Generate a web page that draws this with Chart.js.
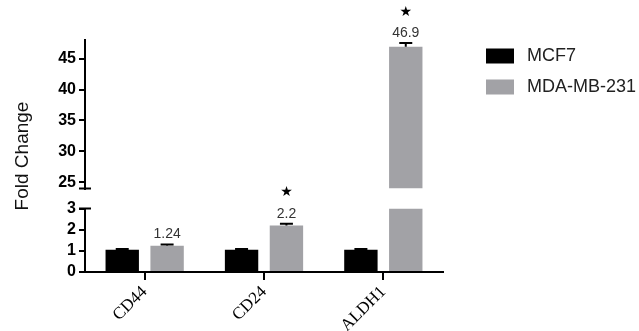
<!DOCTYPE html>
<html>
<head>
<meta charset="utf-8">
<script src="https://cdn.jsdelivr.net/npm/chart.js@4.4.1/dist/chart.umd.min.js"></script>
<style>
  html, body { margin: 0; padding: 0; background: #fff; }
</style>
</head>
<body>
<canvas id="foldChart" width="639" height="331"></canvas>
<script>
const genes = ['CD44', 'CD24', 'ALDH1'];
const mcf7 = [1.05, 1.05, 1.05];
const mcf7Err = [0.04, 0.04, 0.04];
const mda231 = [1.24, 2.2, 46.9];
const mda231Err = [0.06, 0.08, 0.6];
const stars = ['', '★', '★'];
const upperTicks = [25, 30, 35, 40, 45];
const lowerTicks = [0, 1, 2, 3];

const seriesNames = ['MCF7', 'MDA-MB-231'];
const seriesColors = ['#000000', '#a2a2a6'];

// the same bars go on both halves of the broken axis, each half clips its own part
function barSets(axis) {
  return [
    { label: seriesNames[0], stack: 's0', data: mcf7, err: mcf7Err, backgroundColor: seriesColors[0], yAxisID: axis },
    { label: seriesNames[1], stack: 's1', data: mda231, err: mda231Err, backgroundColor: seriesColors[1], yAxisID: axis }
  ];
}

const clipToScale = {
  id: 'clipToScale',
  beforeDatasetDraw(chart, args) {
    const { ctx, chartArea } = chart;
    const s = args.meta.yScale;
    ctx.save();
    ctx.beginPath();
    ctx.rect(chartArea.left, s.top, chartArea.right - chartArea.left, s.bottom - s.top);
    ctx.clip();
  },
  afterDatasetDraw(chart, args) {
    const { ctx } = chart;
    const ds = chart.data.datasets[args.index];
    const s = args.meta.yScale;
    ctx.strokeStyle = '#000';
    ctx.lineWidth = 2;
    args.meta.data.forEach((bar, i) => {
      const y0 = s.getPixelForValue(ds.data[i]);
      const y1 = s.getPixelForValue(ds.data[i] + ds.err[i]);
      ctx.beginPath();
      ctx.moveTo(bar.x, y0);
      ctx.lineTo(bar.x, y1);
      ctx.moveTo(bar.x - 6.5, y1);
      ctx.lineTo(bar.x + 6.5, y1);
      ctx.stroke();
    });
    ctx.restore();
  }
};

const decor = {
  id: 'decor',
  afterDraw(chart) {
    const { ctx, chartArea, scales } = chart;
    const top = scales.yTop, low = scales.yLow;
    const axisX = chartArea.left;
    ctx.save();

    // break marks
    ctx.strokeStyle = '#000';
    ctx.lineWidth = 2;
    [top.bottom, low.top].forEach(y => {
      ctx.beginPath();
      ctx.moveTo(axisX - 6, y);
      ctx.lineTo(axisX + 6, y);
      ctx.stroke();
    });

    // values and stars over MDA-MB-231
    const meta = chart.getDatasetMeta(3);
    ctx.textAlign = 'center';
    ctx.textBaseline = 'middle';
    mda231.forEach((v, i) => {
      const hi = v + mda231Err[i];
      const s = hi <= low.max ? low : top;
      const x = meta.data[i].x;
      const y = s.getPixelForValue(hi) - 10;
      ctx.fillStyle = '#333';
      ctx.font = '14px "Liberation Sans"';
      ctx.fillText(String(v), x, y);
      if (stars[i]) {
        ctx.fillStyle = '#000';
        ctx.font = '14px "DejaVu Sans"';
        ctx.fillText(stars[i], x, y - 21);
      }
    });

    // legend
    ctx.textAlign = 'left';
    ctx.font = '18px "Liberation Sans"';
    seriesNames.forEach((name, i) => {
      const cy = 56 + i * 31;
      ctx.fillStyle = seriesColors[i];
      ctx.fillRect(chartArea.right + 43, cy - 7.5, 28, 15);
      ctx.fillStyle = '#222';
      ctx.fillText(name, chartArea.right + 84, cy);
    });

    // y title
    ctx.translate(23, (top.top + low.bottom) / 2);
    ctx.rotate(-Math.PI / 2);
    ctx.textAlign = 'center';
    ctx.fillStyle = '#111';
    ctx.font = '19px "Liberation Sans"';
    ctx.fillText('Fold Change', 0, 0);
    ctx.restore();
  }
};

const yCommon = {
  type: 'linear',
  position: 'left',
  stack: 'fold',
  grid: { drawOnChartArea: false, tickLength: 6, color: '#000', lineWidth: 2 },
  border: { display: true, color: '#000', width: 2 },
  ticks: { color: '#000', autoSkip: false, padding: 3, font: { family: 'Liberation Sans', size: 16, weight: 'bold' } },
  afterFit: s => { s.width = 85; }
};

const ctx = document.getElementById('foldChart').getContext('2d');
const foldChart = new Chart(ctx, {
  type: 'bar',
  data: {
    labels: genes,
    datasets: [...barSets('yTop'), ...barSets('yLow')]
  },
  options: {
    responsive: false,
    animation: false,
    devicePixelRatio: 1,
    layout: { padding: { top: 40, right: 196, left: 0, bottom: 0 } },
    datasets: { bar: { barPercentage: 0.744, categoryPercentage: 0.752, borderWidth: 0 } },
    scales: {
      x: {
        offset: true,
        grid: { drawOnChartArea: false, offset: false, tickLength: 8, color: '#000', lineWidth: 2 },
        border: { display: true, color: '#000', width: 2 },
        ticks: { color: '#000', maxRotation: 45, minRotation: 45, padding: 2, font: { family: 'Liberation Serif', size: 17 } },
        afterFit: s => { s.height = 59; }
      },
      // stacked scales are placed bottom-up in the order they are declared
      yLow: {
        ...yCommon,
        stackWeight: 63.5,
        min: 0,
        max: 3,
        afterBuildTicks: s => { s.ticks = lowerTicks.map(v => ({ value: v })); }
      },
      yGap: {
        type: 'linear',
        position: 'left',
        stack: 'fold',
        stackWeight: 20,
        grid: { display: false },
        border: { display: false },
        ticks: { display: false },
        afterFit: s => { s.width = 85; }
      },
      yTop: {
        ...yCommon,
        stackWeight: 148.5,
        min: 24,
        max: 48,
        afterBuildTicks: s => { s.ticks = upperTicks.map(v => ({ value: v })); }
      }
    },
    plugins: {
      legend: { display: false },
      tooltip: { enabled: false }
    }
  },
  plugins: [clipToScale, decor]
});
</script>
</body>
</html>
